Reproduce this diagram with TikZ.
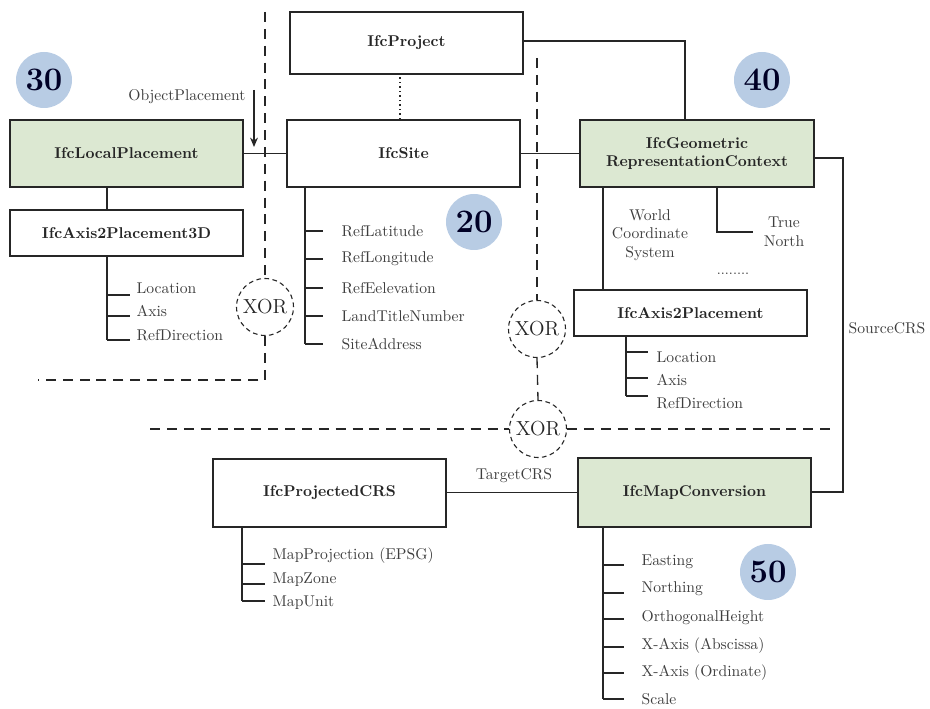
\documentclass[tikz,border=0pt]{standalone}
\usetikzlibrary{calc,arrows.meta}
\definecolor{boxgreen}{HTML}{DCE8D2}
\definecolor{badgeblue}{HTML}{B8CCE4}
\definecolor{inkdark}{HTML}{262626}
\definecolor{inkgray}{HTML}{3E3E3E}
\begin{document}
\begin{tikzpicture}[x=0.64pt,y=-0.64pt,
  line width=0.8pt, draw=inkdark,
  entity/.style={draw=inkdark, line width=0.9pt, inner sep=0pt, text=inkdark, font=\bfseries, align=center, minimum width=233*0.64pt},
  green/.style={entity, fill=boxgreen},
  tall/.style={minimum height=67*0.64pt},
  short/.style={minimum height=46*0.64pt},
  attr/.style={anchor=west, inner sep=0pt, text=inkgray, font=\normalsize},
  badge/.style={circle, fill=badgeblue, minimum size=56*0.64pt, inner sep=0pt, text=black!85!blue, font=\fontsize{21}{24}\bfseries\selectfont},
  xorgate/.style={circle, draw=inkdark, dash pattern=on 3pt off 2.2pt, line width=0.7pt, minimum size=57*0.64pt, inner sep=0pt, fill=white, font=\fontsize{13}{15}\selectfont, text=inkdark},
  partition/.style={dash pattern=on 6.4pt off 4.4pt, line width=0.85pt, draw=inkdark},
  tree/.style={line width=0.9pt, draw=inkdark},
  note/.style={text=inkgray, inner sep=0pt, align=center}]
\useasboundingbox (0,0) rectangle (930,709);

% entity boxes
\node[green, tall] (lp) at (126.5,153.5) {IfcLocalPlacement};
\node[entity, short] (a3d) at (126.5,233) {IfcAxis2Placement3D};
\node[entity, minimum height=62*0.64pt] (proj) at (406.5,43) {IfcProject};
\node[entity, tall] (site) at (403.5,153.5) {IfcSite};
\node[green, tall, minimum width=234*0.64pt] (geom) at (697,153.5) {IfcGeometric\\RepresentationContext};
\node[entity, short] (a2p) at (690.5,313) {IfcAxis2Placement};
\node[entity, minimum height=68*0.64pt] (pcrs) at (329.5,493) {IfcProjectedCRS};
\node[green, minimum height=69*0.64pt] (mapc) at (694.5,492.5) {IfcMapConversion};

% numbered badges
\node[badge] (b30) at (44,80) {30};
\node[badge] (b20) at (474,222) {20};
\node[badge] (b40) at (762,80) {40};
\node[badge] (b50) at (768,572) {50};

% XOR partitions
\node[xorgate] (x1) at (265,307) {XOR};
\node[xorgate] (x2) at (537,329) {XOR};
\node[xorgate] (x3) at (538,429) {XOR};
\coordinate (p1top) at (265,12);
\coordinate (p1corner) at (265,380);
\coordinate (p1end) at (38,380);
\draw[partition] (p1top) -- (x1.north);
\draw[partition] (x1.south) -- (p1corner) -- (p1end);
\coordinate (p2top) at (537,58);
\draw[partition] (p2top) -- (x2.north);
\draw[partition] (x2.south) -- (x3.north);
\coordinate (p3left) at (150,429);
\coordinate (p3right) at (830,429);
\draw[partition] (p3left) -- (x3.west);
\draw[partition] (x3.east) -- (p3right);

% relations between entities
\draw (lp.east) -- (site.west);
\draw[dotted, line width=0.9pt] (site.north -| 400,0) -- (400,74);
\coordinate (projturn) at (685,41);
\draw (proj.east |- projturn) -- (projturn) -- (projturn |- geom.north);
\draw (site.east) -- (geom.west);
\draw (lp.south -| 107,0) -- (a3d.north -| 107,0);

% ObjectPlacement arrow
\node[note, anchor=east] (oplabel) at (246,97) {ObjectPlacement};
\coordinate (opstart) at (254,90);
\draw[-{Stealth[length=6pt,width=5pt]}] (opstart) -- (254,147);

% world coordinate system and true north
\draw (geom.south -| 603,0) -- (a2p.north -| 603,0);
\node[note] (wcs) at (650,235) {World\\Coordinate\\System};
\coordinate (tnturn) at (717,232);
\draw (geom.south -| tnturn) -- (tnturn) -- ++(36,0) coordinate (tnend);
\node[note] (tn) at (784,232) {True\\North};
\node[note, font=\small] (dots) at (733,274) {........};

% source and target CRS
\coordinate (srctop) at (843,158);
\coordinate (srcbot) at (843,492);
\draw (geom.east |- srctop) -- (srctop) -- (srcbot) -- (mapc.east |- srcbot);
\node[note, anchor=west] (srclabel) at (848,328) {SourceCRS};
\draw (pcrs.east |- mapc.west) -- (mapc.west);
\node[note] (tgtlabel) at (514,476) {TargetCRS};

% attribute lists: tick height / label height / label
\draw[tree] (a3d.south -| 107,0) -- (107,340);
\foreach \y/\ty/\t in {295/288/Location,316/311/Axis,340/335/RefDirection}{
  \draw[tree] (107,\y) -- (130,\y);
  \node[attr] at (136,\ty) {\t};
}
\draw[tree] (site.south -| 305,0) -- (305,344);
\foreach \y/\t in {231/RefLatitude,259/RefLongitude,288/RefEelevation,316/LandTitleNumber,344/SiteAddress}{
  \draw[tree] (305,\y) -- (323,\y);
  \node[attr] at (341,\y) {\t};
}
\draw[tree] (a2p.south -| 626,0) -- (626,396);
\foreach \y/\ty/\t in {352/357/Location,378/380/Axis,396/403/RefDirection}{
  \draw[tree] (626,\y) -- (648,\y);
  \node[attr] at (656,\ty) {\t};
}
\draw[tree] (pcrs.south -| 242,0) -- (242,601);
\foreach \y/\ty/\t in {564/556/MapProjection (EPSG),584/580/MapZone,601/603/MapUnit}{
  \draw[tree] (242,\y) -- (265,\y);
  \node[attr] at (272,\ty) {\t};
}
\draw[tree] (mapc.south -| 603,0) -- (603,699);
\foreach \y/\ty/\t in {565/562/Easting,593/589/Northing,619/618/OrthogonalHeight,647/646/X-Axis (Abscissa),673/673/X-Axis (Ordinate),699/699/Scale}{
  \draw[tree] (603,\y) -- (624,\y);
  \node[attr] at (641,\ty) {\t};
}
\end{tikzpicture}
\end{document}
